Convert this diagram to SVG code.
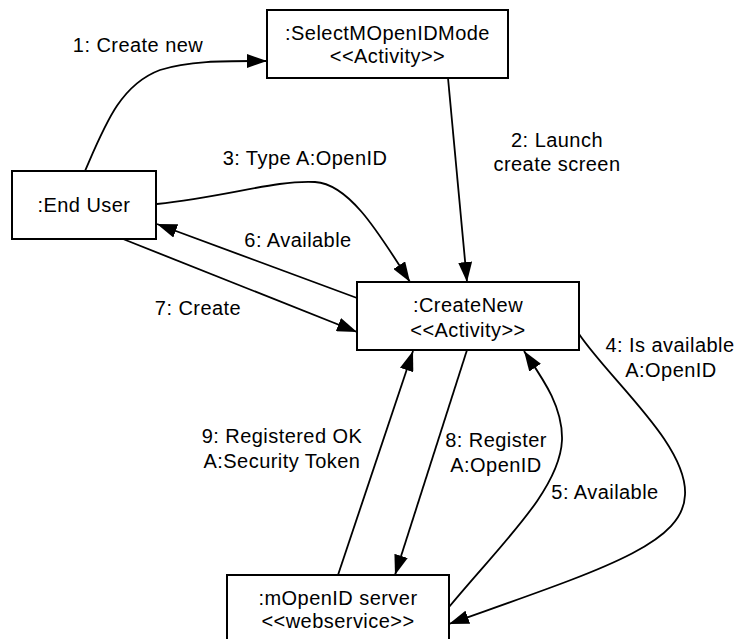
<svg xmlns="http://www.w3.org/2000/svg" width="736" height="639" viewBox="0 0 736 639">
  <style>
    .box { fill: #ffffff; stroke: #000000; stroke-width: 2; }
    .lbl { font-family: "Liberation Sans", Arial, Helvetica, sans-serif; font-size: 20px; letter-spacing: 0.45px; fill: #000000; text-anchor: middle; }
    .edge { fill: none; stroke: #000000; stroke-width: 1.8; marker-end: url(#arrow); }
  </style>
  <defs>
    <marker id="arrow" markerUnits="userSpaceOnUse" markerWidth="20" markerHeight="14" refX="20" refY="7" orient="auto">
      <path d="M0,0 L20,7 L0,14 z" fill="#000000"/>
    </marker>
  </defs>
  <rect width="736" height="639" fill="#ffffff"/>

  <!-- message connectors -->
  <g id="connectors">
    <path id="m1" class="edge" d="M85,171 C105,125 120,85 160,70 C190,60 230,61 267,61"/>
    <path id="m2" class="edge" d="M448,78 L467,282"/>
    <path id="m3" class="edge" d="M157,204 C230,196 275,180 315,182 C350,184 380,235 410,282"/>
    <path id="m4" class="edge" d="M579,334 C610,380 688,445 685,495 C683,545 600,570 449,624"/>
    <path id="m5" class="edge" d="M449,607 C500,545 560,490 562,440 C563,405 540,375 524,351"/>
    <path id="m6" class="edge" d="M357,298 L157,224"/>
    <path id="m7" class="edge" d="M123,239 L357,332"/>
    <path id="m8" class="edge" d="M467,350 L395,575"/>
    <path id="m9" class="edge" d="M338,575 L413,351"/>
  </g>

  <!-- message labels -->
  <g id="labels">
    <text class="lbl" x="138" y="52">1: Create new</text>
    <text class="lbl" x="557" y="147">2: Launch</text>
    <text class="lbl" x="557" y="171">create screen</text>
    <text class="lbl" x="305" y="165">3: Type A:OpenID</text>
    <text class="lbl" x="670" y="352">4: Is available</text>
    <text class="lbl" x="671" y="377">A:OpenID</text>
    <text class="lbl" x="605" y="499">5: Available</text>
    <text class="lbl" x="298" y="247">6: Available</text>
    <text class="lbl" x="198" y="315">7: Create</text>
    <text class="lbl" x="496" y="447">8: Register</text>
    <text class="lbl" x="496" y="472">A:OpenID</text>
    <text class="lbl" x="282" y="443">9: Registered OK</text>
    <text class="lbl" x="282" y="468">A:Security Token</text>
  </g>

  <g id="select-mode">
    <rect class="box" x="267" y="10" width="241" height="68"/>
    <text class="lbl" x="387.5" y="40">:SelectMOpenIDMode</text>
    <text class="lbl" x="387.5" y="63">&lt;&lt;Activity&gt;&gt;</text>
  </g>

  <g id="end-user">
    <rect class="box" x="12" y="171" width="144" height="68"/>
    <text class="lbl" x="84" y="212">:End User</text>
  </g>

  <g id="create-new">
    <rect class="box" x="357" y="282" width="222" height="68"/>
    <text class="lbl" x="468" y="312">:CreateNew</text>
    <text class="lbl" x="468" y="337">&lt;&lt;Activity&gt;&gt;</text>
  </g>

  <g id="mopenid-server">
    <rect class="box" x="227" y="575" width="222" height="68"/>
    <text class="lbl" x="338" y="605">:mOpenID server</text>
    <text class="lbl" x="338" y="628">&lt;&lt;webservice&gt;&gt;</text>
  </g>
</svg>
